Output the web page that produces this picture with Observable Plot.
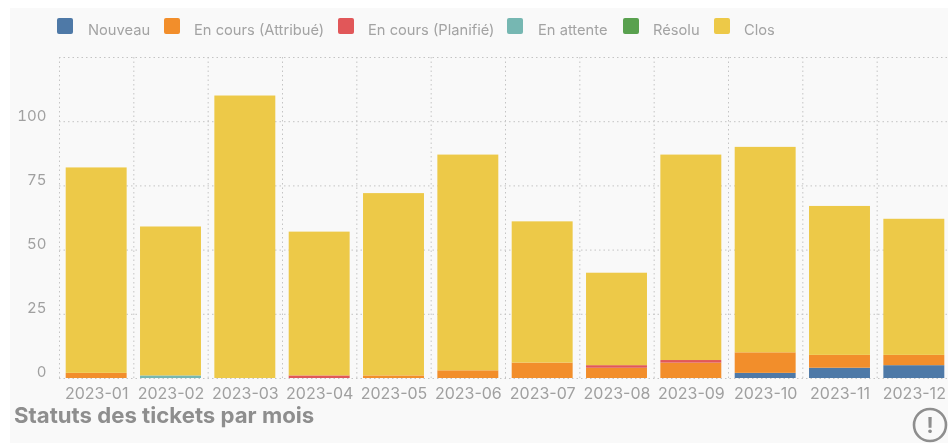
<!DOCTYPE html>
<html><head><meta charset="utf-8">
<script src="https://cdn.jsdelivr.net/npm/d3@7"></script>
<script src="https://cdn.jsdelivr.net/npm/@observablehq/plot@0.6"></script>
<style>
html,body{margin:0;padding:0;background:#fff;overflow:hidden}
#panel{position:absolute;left:10px;top:8px;width:938px;height:435px;background:#f9f9f9}
#wrap{position:absolute;left:0;top:0;width:948px;height:443px;overflow:hidden;font-family:Inter,sans-serif;filter:blur(.35px)}
#chart{position:absolute;left:0;top:0;width:960px}
.lg{position:absolute;top:18px;width:16px;height:16px;border-radius:2px}
.lt{position:absolute;top:21px;font-size:14.7px;line-height:18px;color:#a3a3a3;white-space:nowrap}
#title{position:absolute;left:14px;top:402px;font-size:22.2px;font-weight:700;line-height:26px;color:#8e8e8e;white-space:nowrap}
#icon{position:absolute;left:912px;top:407px}
</style></head><body>
<div id="panel"></div>
<div id="wrap"><div id="chart"></div><div id="legend"></div><div id="title">Statuts des tickets par mois</div>
<svg id="icon" width="36" height="36" viewBox="0 0 36 36"><circle cx="18" cy="18" r="16" fill="none" stroke="#8e8e8e" stroke-width="2.6"/><text x="18" y="25.5" text-anchor="middle" font-family="Inter,sans-serif" font-weight="700" font-size="21" fill="#8e8e8e">!</text></svg>
</div>
<script>
const months = ["2023-01","2023-02","2023-03","2023-04","2023-05","2023-06","2023-07","2023-08","2023-09","2023-10","2023-11","2023-12"];
const statuses = ["Nouveau","En cours (Attribué)","En cours (Planifié)","En attente","Résolu","Clos"];
const colors = ["#4e79a7","#f28e2b","#e15759","#76b7b2","#59a14f","#edc948"];
const nouveau  = [0,0,0,0,0,0,0,0,0,2,4,5];
const attribue = [2,0,0,0,1,3,6,4,6,8,5,4];
const planifie = [0,0,0,1,0,0,0,1,1,0,0,0];
const attente  = [0,1,0,0,0,0,0,0,0,0,0,0];
const resolu   = [0,0,0,0,0,0,0,0,0,0,0,0];
const clos     = [80,58,110,56,71,84,55,36,80,80,58,53];
const yTicks = [0,25,50,75,100];
const yGrid = [0,25,50,75,100,125];
const legendX = [57,164,338,507,623,714];
const labelX = [88,194,368,538,653,744];

const seriesValues = [nouveau,attribue,planifie,attente,resolu,clos];
const rows = statuses.flatMap((s,i)=>months.map((m,j)=>({month:m,status:s,count:seriesValues[i][j]})));
const step = 892/12;
const plot = Plot.plot({
  width:960,height:443,marginLeft:59,marginRight:9,marginTop:57,marginBottom:65,
  style:{background:"transparent",fontFamily:"Inter,sans-serif",fontSize:"16px",overflow:"hidden",maxWidth:"none"},
  x:{domain:months,paddingInner:.18,paddingOuter:.09,round:false,label:null},
  y:{domain:[0,125],label:null},
  color:{domain:statuses,range:colors},
  marks:[
    Plot.ruleY(yGrid,{stroke:"#c4c4c4",strokeDasharray:"1.5,3",strokeWidth:1}),
    Plot.ruleX(months,{x:d=>d,dx:-step/2,stroke:"#c4c4c4",strokeDasharray:"1.5,3",strokeWidth:1}),
    Plot.barY(rows,{x:"month",y:"count",fill:"status",order:statuses}),
    Plot.axisX({tickSize:0,tickPadding:9,color:"#a0a0a0",label:null,fontSize:16}),
    Plot.axisY({ticks:yTicks,tickSize:0,tickPadding:13,dy:-6,color:"#a0a0a0",label:null,fontSize:15})
  ]
});
document.getElementById("chart").appendChild(plot);
const lg = document.getElementById("legend");
statuses.forEach((s,i)=>{
  const b=document.createElement("div");b.className="lg";b.style.left=legendX[i]+"px";b.style.background=colors[i];lg.appendChild(b);
  const t=document.createElement("div");t.className="lt";t.style.left=labelX[i]+"px";t.textContent=s;lg.appendChild(t);
});
</script></body></html>
